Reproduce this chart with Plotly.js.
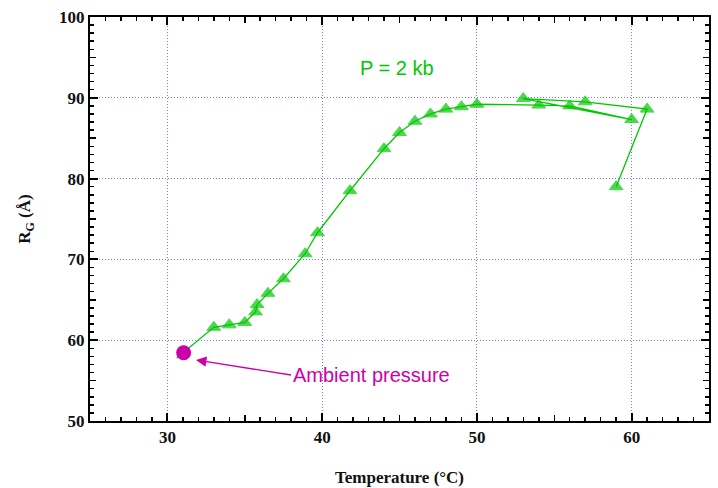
<!DOCTYPE html>
<html>
<head>
<meta charset="utf-8">
<script src="https://cdn.plot.ly/plotly-3.0.1.min.js"></script>
<style>html,body{margin:0;padding:0;background:#fff;}#chart{width:718px;height:488px;}</style>
</head>
<body>
<div id="chart"></div>
<script>
// Temperature (°C) and radius of gyration (Å) at P = 2 kb, in measurement order
const tempP2 = [30.6, 33.0, 34.0, 35.0, 35.7, 35.8, 36.5, 37.5, 38.9, 39.7, 41.8, 44.0, 45.0, 46.0, 47.0, 48.0, 49.0, 50.0, 54.0, 56.0, 60.0, 53.0, 57.0, 61.0, 59.0];
const rgP2   = [57.8, 61.6, 61.9, 62.2, 63.5, 64.4, 65.8, 67.6, 70.7, 73.3, 78.5, 83.7, 85.7, 87.1, 88.0, 88.6, 88.9, 89.2, 89.1, 89.0, 87.3, 89.9, 89.5, 88.6, 79.0];
// Ambient pressure point
const tempAmb = [31.05];
const rgAmb   = [58.45];

const xMajor = [30, 40, 50, 60];
const xMedium = [35, 45, 55];
const yMajor = [50, 60, 70, 80, 90, 100];
const yMedium = [55, 65, 75, 85, 95];

const green = 'rgb(0,200,0)';
const magenta = 'rgb(204,0,170)';
const gridCol = 'rgb(120,120,250)';
const serifBold = {family: 'Liberation Serif, Times New Roman, serif', size: 17, color: '#111', weight: 'bold'};

const sizes = tempP2.map((v, i) => i === 0 ? 0 : 12);

const traces = [
  {
    x: tempP2, y: rgP2, type: 'scatter', mode: 'lines+markers',
    line: {color: green, width: 1.3},
    marker: {symbol: 'triangle-up', size: sizes, color: green, line: {color: green, width: 1}},
    showlegend: false, hoverinfo: 'skip'
  },
  {
    x: tempAmb, y: rgAmb, type: 'scatter', mode: 'markers',
    marker: {symbol: 'circle', size: 15, color: magenta},
    showlegend: false, hoverinfo: 'skip'
  },
  {x: [30], y: [60], xaxis: 'x2', yaxis: 'y2', type: 'scatter', mode: 'markers', marker: {size: 1, opacity: 0}, showlegend: false, hoverinfo: 'skip'}
];

const layout = {
  width: 718, height: 488,
  margin: {l: 90, r: 9, t: 17, b: 67},
  paper_bgcolor: '#fff', plot_bgcolor: '#fff',
  showlegend: false,
  xaxis: {
    range: [25, 65], tickvals: xMajor, ticks: 'inside', ticklen: 8, tickwidth: 2, tickcolor: '#000',
    minor: {dtick: 1, tick0: 25, ticks: 'inside', ticklen: 4, tickwidth: 1.5, tickcolor: '#000', showgrid: false},
    showline: true, linecolor: '#000', linewidth: 2, mirror: 'allticks',
    showgrid: true, gridcolor: gridCol, griddash: '1px,2px', gridwidth: 1,
    zeroline: false, tickfont: serifBold,
    title: {text: 'Temperature (°C)', font: serifBold, standoff: 25}
  },
  yaxis: {
    range: [50, 100], tickvals: yMajor, ticks: 'inside', ticklen: 8, tickwidth: 2, tickcolor: '#000',
    minor: {dtick: 1, tick0: 50, ticks: 'inside', ticklen: 4, tickwidth: 1.5, tickcolor: '#000', showgrid: false},
    showline: true, linecolor: '#000', linewidth: 2, mirror: 'allticks',
    showgrid: true, gridcolor: gridCol, griddash: '1px,2px', gridwidth: 1,
    zeroline: false, tickfont: serifBold,
    title: {text: 'R<sub>G</sub> (Å)', font: serifBold, standoff: 24}
  },
  xaxis2: {
    overlaying: 'x', range: [25, 65], tickvals: xMedium, ticks: 'inside', ticklen: 6, tickwidth: 1.5,
    tickcolor: '#000', showticklabels: false, showgrid: false, zeroline: false, showline: false, mirror: 'ticks'
  },
  yaxis2: {
    overlaying: 'y', range: [50, 100], tickvals: yMedium, ticks: 'inside', ticklen: 6, tickwidth: 1.5,
    tickcolor: '#000', showticklabels: false, showgrid: false, zeroline: false, showline: false, mirror: 'ticks'
  },
  annotations: [
    {
      x: 44.87, y: 93.75, xref: 'x', yref: 'y', text: 'P = 2 kb', showarrow: false,
      font: {family: 'Liberation Sans, Arial, sans-serif', size: 20, color: green}
    },
    {
      x: 31.85, y: 57.55, xref: 'x', yref: 'y', text: 'Ambient pressure',
      showarrow: true, ax: 95, ay: 15, xanchor: 'left', yanchor: 'middle',
      arrowhead: 2, arrowsize: 1.6, arrowwidth: 1.3, arrowcolor: magenta,
      font: {family: 'Liberation Sans, Arial, sans-serif', size: 20, color: magenta}
    }
  ]
};

Plotly.newPlot('chart', traces, layout, {displayModeBar: false, staticPlot: true});
</script>
</body>
</html>
